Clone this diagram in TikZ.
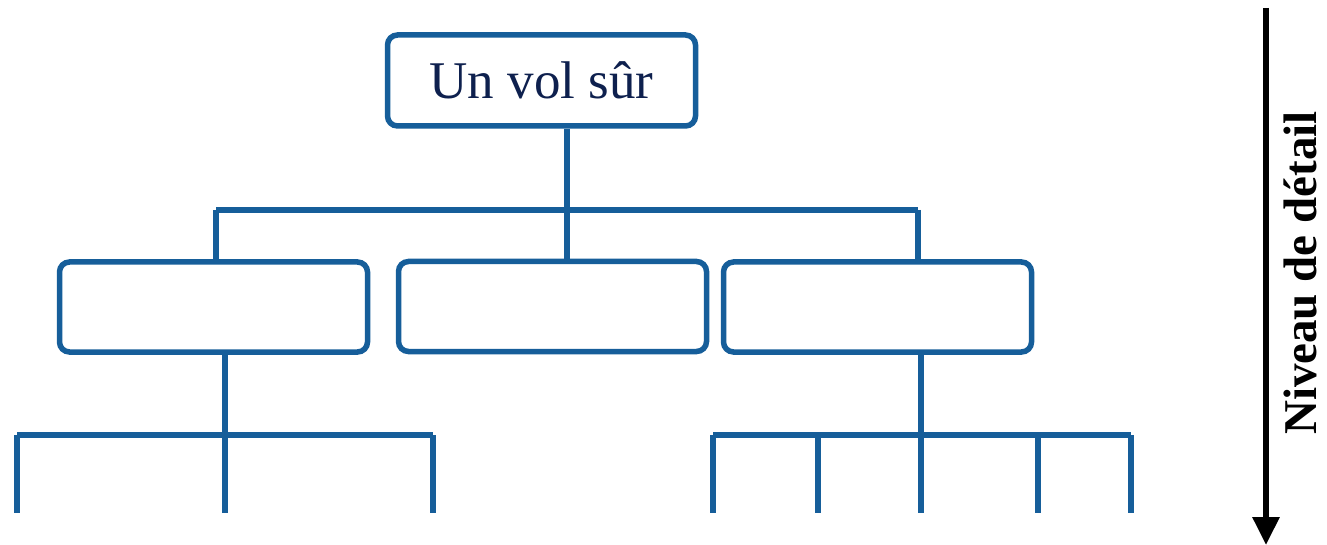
\documentclass[tikz,border=0pt]{standalone}
\usepackage{fontspec}
\setmainfont{Liberation Serif}
\usetikzlibrary{arrows.meta}
\definecolor{tblue}{RGB}{22,94,154}
\definecolor{tnavy}{RGB}{14,32,78}
\begin{document}
\begin{tikzpicture}[x=1pt,y=-1pt,
  box/.style={draw=tblue,line width=5.5pt,rounded corners=10pt,fill=white,inner sep=0pt,minimum width=308pt,minimum height=90pt},
  conn/.style={draw=tblue,line width=5.5pt}]
\useasboundingbox (0,0) rectangle (1327,545);
\node[box,text=tnavy,font=\fontsize{53}{60}\selectfont,minimum height=91pt] (top) at (541.5,80.5) {Un vol sûr};
\node[box] (bl) at (213.5,307) {};
\node[box] (bm) at (552.5,306.5) {};
\node[box] (br) at (877.5,307) {};
% level 1 bus
\coordinate (j1) at (567,210);
\coordinate (a1) at (216,210);
\coordinate (b1) at (918,210);
\draw[conn] (top.south -| j1) -- (j1);
\draw[conn] (j1) -- (bm.north -| j1);
\draw[conn] (a1) -- (b1);
\draw[conn] (a1) -- (bl.north -| a1);
\draw[conn] (b1) -- (br.north -| b1);
% left sub bus
\coordinate (lj) at (225,435);
\coordinate (la) at (17,435);
\coordinate (lb) at (433,435);
\coordinate (l1) at (17,513);
\coordinate (l2) at (225,513);
\coordinate (l3) at (433,513);
\draw[conn] (bl.south -| lj) -- (lj);
\draw[conn] (la) -- (lb);
\draw[conn] (la) -- (l1);
\draw[conn] (lj) -- (l2);
\draw[conn] (lb) -- (l3);
% right sub bus
\coordinate (rj) at (921,435);
\coordinate (ra) at (713,435);
\coordinate (rb) at (1131,435);
\coordinate (r2t) at (818,435);
\coordinate (r4t) at (1038,435);
\coordinate (r1) at (713,513);
\coordinate (r2) at (818,513);
\coordinate (r3) at (921,513);
\coordinate (r4) at (1038,513);
\coordinate (r5) at (1131,513);
\draw[conn] (br.south -| rj) -- (rj);
\draw[conn] (ra) -- (rb);
\draw[conn] (ra) -- (r1);
\draw[conn] (r2t) -- (r2);
\draw[conn] (rj) -- (r3);
\draw[conn] (r4t) -- (r4);
\draw[conn] (rb) -- (r5);
% detail arrow
\coordinate (as) at (1266,8);
\coordinate (ae) at (1266,545);
\draw[line width=6pt,-{Triangle[length=28pt,width=26pt]}] (as) -- (ae);
\node[rotate=90,anchor=base,inner sep=0pt,font=\bfseries\fontsize{47}{55}\selectfont] (lab) at (1316,273) {Niveau de détail};
\end{tikzpicture}
\end{document}
